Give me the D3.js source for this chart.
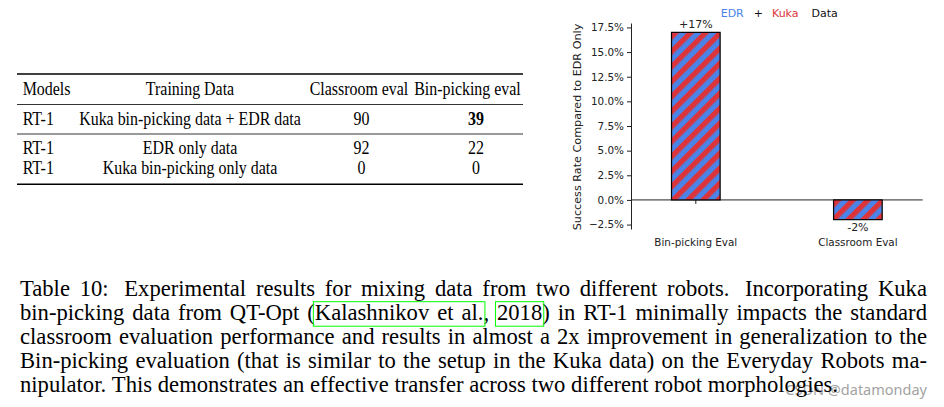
<!DOCTYPE html>
<html>
<head>
<meta charset="utf-8">
<title>Table 10: mixing EDR and Kuka data</title>
<script src="https://d3js.org/d3.v7.min.js"></script>
<style>
  body { margin: 0; background: #fff; }
  svg { display: block; }
</style>
</head>
<body>
<script>
// ---- data ----
const evalNames = ["Bin-picking Eval", "Classroom Eval"];
const gainValues = [17, -2];
const gainLabels = ["+17%", "-2%"];
const yTickValues = [-2.5, 0, 2.5, 5, 7.5, 10, 12.5, 15, 17.5];
const titleWords = ["EDR", "+", "Kuka", "Data"];
const titleColors = ["#4a84e8", "#111", "#db353b", "#111"];

const tableHeader = ["Models", "Training Data", "Classroom eval", "Bin-picking eval"];
const models = ["RT-1", "RT-1", "RT-1"];
const trainingData = ["Kuka bin-picking data + EDR data", "EDR only data", "Kuka bin-picking only data"];
const classroomEval = [90, 92, 0];
const binPickingEval = [39, 22, 0];
const boldRow = 0; // best bin-picking result is bold

// {...} marks the green citation-link boxes, double space = sentence space
const captionLines = [
  "Table 10:  Experimental results for mixing data from two different robots.  Incorporating Kuka",
  "bin-picking data from QT-Opt ({Kalashnikov et al.}, {2018}) in RT-1 minimally impacts the standard",
  "classroom evaluation performance and results in almost a 2x improvement in generalization to the",
  "Bin-picking evaluation (that is similar to the setup in the Kuka data) on the Everyday Robots ma-",
  "nipulator. This demonstrates an effective transfer across two different robot morphologies."
];

const W = 944, H = 407;
const blue = "#4a84e8", red = "#db353b", ink = "#222";

const svg = d3.select("body").append("svg")
  .attr("width", W).attr("height", H);
svg.append("rect").attr("width", W).attr("height", H).attr("fill", "#fff");

// stripe fill for the bars
const stripe = 10.6;
const pat = svg.append("defs").append("pattern")
  .attr("id", "stripes")
  .attr("patternUnits", "userSpaceOnUse")
  .attr("width", stripe).attr("height", stripe)
  .attr("patternTransform", "rotate(45)");
pat.append("rect").attr("width", stripe).attr("height", stripe).attr("fill", blue);
pat.append("rect").attr("width", stripe / 2).attr("height", stripe).attr("fill", red);

// ================= bar chart =================
const x = d3.scaleLinear().domain([-0.4, 1.4]).range([631, 922.7]);
const y = d3.scaleLinear().domain([-2.95, 17.95]).range([229, 23]);
const barHalf = 0.15;
const chart = svg.append("g").style("font-family", "DejaVu Sans, sans-serif");

// y axis
const yAxis = chart.append("g")
  .attr("transform", `translate(${x(-0.4)},0)`)
  .call(d3.axisLeft(y).tickValues(yTickValues)
    .tickFormat(d => d3.format(".1f")(d) + "%")
    .tickSize(4).tickSizeOuter(0).tickPadding(3));
yAxis.selectAll("path, line").attr("stroke", ink).attr("stroke-width", 1);
yAxis.selectAll("text").attr("fill", ink).style("font-size", "10.4px")
  .style("font-family", "DejaVu Sans, sans-serif");

chart.append("text")
  .attr("transform", `translate(581,${(y.range()[0] + y.range()[1]) / 2 + 1}) rotate(-90)`)
  .attr("text-anchor", "middle")
  .attr("fill", ink)
  .style("font-size", "11.2px")
  .text("Success Rate Compared to EDR Only");

// x axis sitting on zero
chart.append("line")
  .attr("x1", x(-0.4)).attr("x2", x(1.4))
  .attr("y1", y(0)).attr("y2", y(0))
  .attr("stroke", ink).attr("stroke-width", 1);
chart.selectAll(".xtick").data(evalNames).enter().append("line")
  .attr("class", "xtick")
  .attr("x1", (d, i) => x(i)).attr("x2", (d, i) => x(i))
  .attr("y1", y(0)).attr("y2", y(0) + 4)
  .attr("stroke", ink);

// bars
chart.selectAll(".bar").data(gainValues).enter().append("rect")
  .attr("class", "bar")
  .attr("x", (d, i) => x(i - barHalf))
  .attr("width", x(barHalf) - x(-barHalf))
  .attr("y", d => y(Math.max(0, d)))
  .attr("height", d => Math.abs(y(d) - y(0)))
  .attr("fill", "url(#stripes)")
  .attr("stroke", "#000").attr("stroke-width", 1.2);

// value labels
chart.selectAll(".vlabel").data(gainValues).enter().append("text")
  .attr("class", "vlabel")
  .attr("x", (d, i) => x(i))
  .attr("y", d => d >= 0 ? y(d) - 4.5 : y(d) + 11.5)
  .attr("text-anchor", "middle")
  .attr("fill", ink)
  .style("font-size", "11px")
  .text((d, i) => gainLabels[i]);

// category labels
chart.selectAll(".cat").data(evalNames).enter().append("text")
  .attr("class", "cat")
  .attr("x", (d, i) => x(i))
  .attr("y", y.range()[0] + 17)
  .attr("text-anchor", "middle")
  .attr("fill", ink)
  .style("font-size", "10.4px")
  .text(d => d);

// coloured title
const titleGaps = [10, 9, 13];
let tx = 720.7;
titleWords.forEach((w, i) => {
  const t = chart.append("text")
    .attr("x", tx).attr("y", 17)
    .attr("fill", titleColors[i])
    .style("font-size", "11px")
    .text(w);
  tx += t.node().getComputedTextLength() + (titleGaps[i] || 0);
});

// ================= table =================
const serif = "Liberation Serif, Times New Roman, serif";
const table = svg.append("g").style("font-family", serif);
const tFont = 18.5;

// horizontal squeeze so that glyphs match the (narrow) reference
const probe = table.append("text").style("font-size", tFont + "px").text(trainingData[0]);
const tSx = 221.7 / probe.node().getComputedTextLength();
probe.remove();

function cell(str, cx, by, anchor, bold) {
  table.append("text")
    .attr("transform", `translate(${cx},${by}) scale(${tSx},1)`)
    .attr("text-anchor", anchor)
    .style("font-size", tFont + "px")
    .style("font-weight", bold ? "bold" : "normal")
    .attr("fill", "#000")
    .text(str);
}

const colX = [22.7, 190, 359, 467.5];
const valX = [22.7, 190, 361.5, 476];
const colAnchor = ["start", "middle", "middle", "middle"];
const headerY = 95;
const rowY = [125, 154, 174];

tableHeader.forEach((h, i) => cell(h, colX[i], headerY, colAnchor[i], false));
models.forEach((m, r) => {
  cell(m, valX[0], rowY[r], "start", false);
  cell(trainingData[r], valX[1], rowY[r], "middle", false);
  cell(String(classroomEval[r]), valX[2], rowY[r], "middle", false);
  cell(String(binPickingEval[r]), valX[3], rowY[r], "middle", r === boldRow);
});

const rules = [[74, 1.5], [104.5, 0.8], [134, 0.8], [184.3, 1.5]];
rules.forEach(([ry, sw]) => {
  table.append("line")
    .attr("x1", 17).attr("x2", 523)
    .attr("y1", ry).attr("y2", ry)
    .attr("stroke", "#000").attr("stroke-width", sw);
});

// ================= caption =================
svg.append("text")
  .attr("x", 927).attr("y", 395)
  .attr("text-anchor", "end")
  .attr("fill", "#a3a3a3")
  .style("font-family", "Noto Sans, sans-serif")
  .style("font-size", "14.5px")
  .text("CSDN @datamonday");

const cap = svg.append("g").style("font-family", serif);
const cFont = 22.5;
const capLeft = 20, capRight = 927, lastLineRight = 838;
const capBase = [295.5, 319.7, 343.9, 368.1, 392.3];

// parse a line into words, each word made of parts that may be inside a box
function parseLine(line) {
  const words = [];
  let box = 0, inBox = false, cur = null, spaces = 0;
  for (const ch of line) {
    if (ch === " ") { if (cur) { words.push(cur); cur = null; } spaces++; continue; }
    if (!cur) { cur = { parts: [], gapBefore: spaces }; spaces = 0; }
    if (ch === "{") { inBox = true; box++; cur.parts.push({ t: "", box: box }); continue; }
    if (ch === "}") { inBox = false; cur.parts.push({ t: "", box: 0 }); continue; }
    let p = cur.parts[cur.parts.length - 1];
    if (!p) { p = { t: "", box: inBox ? box : 0 }; cur.parts.push(p); }
    p.t += ch;
  }
  if (cur) words.push(cur);
  words.forEach(w => { w.parts = w.parts.filter(p => p.t.length); });
  return words;
}

const measure = cap.append("text").style("font-size", cFont + "px");
function textW(s) { measure.text(s); return measure.node().getComputedTextLength(); }
const spaceW = textW("a b") - textW("ab");

// squeeze from the natural last line
const lastWords = parseLine(captionLines[4]);
const lastNatural = d3.sum(lastWords, w => textW(w.parts.map(p => p.t).join(""))) +
  spaceW * (lastWords.length - 1);
const cSx = (lastLineRight - capLeft) / lastNatural;

captionLines.forEach((line, li) => {
  const words = parseLine(line);
  const widths = words.map(w => w.parts.map(p => textW(p.t) * cSx));
  const total = d3.sum(widths, ws => d3.sum(ws));
  const weights = words.map((w, i) => i === 0 ? 0 : (w.gapBefore > 1 ? 1.6 : 1));
  const wsum = d3.sum(weights);
  const justify = li < captionLines.length - 1;
  const gap = justify ? (capRight - capLeft - total) / wsum : spaceW * cSx;
  const by = capBase[li];
  const boxes = {};
  let cx = capLeft;
  words.forEach((w, i) => {
    cx += weights[i] * gap;
    w.parts.forEach((p, k) => {
      cap.append("text")
        .attr("transform", `translate(${cx},${by}) scale(${cSx},1)`)
        .style("font-size", cFont + "px")
        .attr("fill", "#000")
        .text(p.t);
      if (p.box) {
        const b = boxes[p.box] || (boxes[p.box] = { x0: cx, x1: cx });
        b.x1 = cx + widths[i][k];
      }
      cx += widths[i][k];
    });
  });
  Object.values(boxes).forEach(b => {
    cap.append("rect")
      .attr("x", b.x0 - 1.5).attr("y", by - 18)
      .attr("width", b.x1 - b.x0 + 3).attr("height", 24.5)
      .attr("fill", "none").attr("stroke", "#00ff00").attr("stroke-width", 1);
  });
});
measure.remove();
</script>
</body>
</html>
